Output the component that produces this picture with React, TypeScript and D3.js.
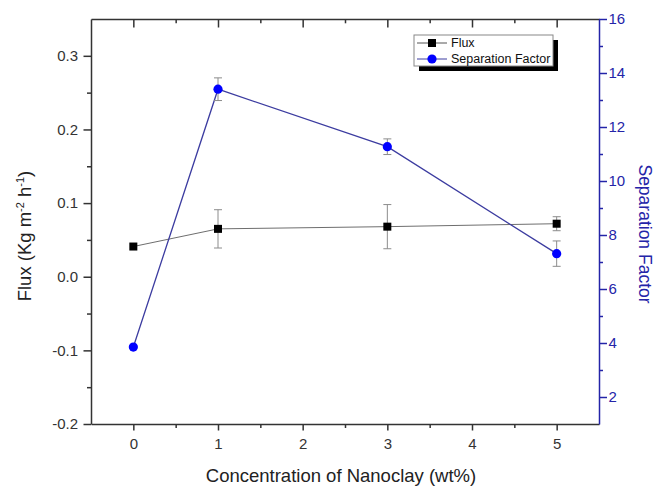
import * as d3 from 'd3';
import React, { useEffect, useRef } from 'react';

// concentration of nanoclay (wt%)
const concentrations = [0, 1, 3, 5];

// flux series, Kg m-2 h-1
const fluxValues = [0.041, 0.065, 0.068, 0.072];
const fluxErrors = [0, 0.026, 0.03, 0.0095];

// separation factor series
const separationValues = [3.85, 13.4, 11.27, 7.31];
const separationErrors = [0, 0.42, 0.29, 0.47];

// tick labels
const xTicks = [0, 1, 2, 3, 4, 5];
const xMinorTicks = [0.5, 1.5, 2.5, 3.5, 4.5];
const fluxTicks = [-0.2, -0.1, 0, 0.1, 0.2, 0.3];
const fluxMinorTicks = [-0.15, -0.05, 0.05, 0.15, 0.25];
const separationTicks = [2, 4, 6, 8, 10, 12, 14, 16];
const separationMinorTicks = [3, 5, 7, 9, 11, 13, 15];

const seriesNames = ['Flux', 'Separation Factor'];
const xTitle = 'Concentration of Nanoclay (wt%)';
const rightTitle = 'Separation Factor';

const FONT = '"Liberation Sans", Arial, sans-serif';
const BLUE_AXIS = '#2424a8';
const BLUE_LINE = '#3c3ca0';
const BLUE_MARK = '#0000ff';
const DARK = '#333333';
const ERR = '#8c8c8c';

export default function App() {
  const ref = useRef<SVGSVGElement | null>(null);

  useEffect(() => {
    const W = 657;
    const H = 487;
    // set the dimensions and margins of the graph
    const margin = { top: 19, right: 58, bottom: 63, left: 91 };
    const width = W - margin.left - margin.right;
    const height = H - margin.top - margin.bottom;

    const svg = d3.select(ref.current);
    svg.selectAll('*').remove();

    const g = svg.append('g').attr('transform', `translate(${margin.left},${margin.top})`);

    // scales
    const x = d3.scaleLinear().domain([-0.5, 5.5]).range([0, width]);
    const yFlux = d3.scaleLinear().domain([-0.2, 0.35]).range([height, 0]);
    const ySep = d3.scaleLinear().domain([1, 16]).range([height, 0]);

    const styleAxis = (sel: any, color: string, fontSize = 15) => {
      sel.selectAll('path').attr('stroke', color).attr('stroke-width', 1.5);
      sel.selectAll('line').attr('stroke', color).attr('stroke-width', 1.5);
      sel.selectAll('text').attr('fill', color).style('font-family', FONT).style('font-size', `${fontSize}px`);
    };

    // bottom axis
    const bottom = g.append('g').attr('transform', `translate(0,${height})`)
      .call(d3.axisBottom(x).tickValues(xTicks).tickSize(6.5).tickSizeOuter(0).tickPadding(8)
        .tickFormat((d: any) => String(d)));
    styleAxis(bottom, DARK);
    const bottomMinor = g.append('g').attr('transform', `translate(0,${height})`)
      .call(d3.axisBottom(x).tickValues(xMinorTicks).tickSize(4).tickFormat(() => ''));
    bottomMinor.select('.domain').remove();
    styleAxis(bottomMinor, DARK);

    // top axis (ticks inward)
    const top = g.append('g')
      .call(d3.axisTop(x).tickValues(xTicks).tickSize(-8.5).tickSizeOuter(0).tickFormat(() => ''));
    styleAxis(top, DARK);
    const topMinor = g.append('g')
      .call(d3.axisTop(x).tickValues(xMinorTicks).tickSize(-4.3).tickFormat(() => ''));
    topMinor.select('.domain').remove();
    styleAxis(topMinor, DARK);

    // left axis
    const left = g.append('g')
      .call(d3.axisLeft(yFlux).tickValues(fluxTicks).tickSize(7.5).tickSizeOuter(0).tickPadding(5.5)
        .tickFormat((d: any) => (+d).toFixed(1)));
    styleAxis(left, DARK);
    const leftMinor = g.append('g')
      .call(d3.axisLeft(yFlux).tickValues(fluxMinorTicks).tickSize(4).tickFormat(() => ''));
    leftMinor.select('.domain').remove();
    styleAxis(leftMinor, DARK);

    // right axis
    const right = g.append('g').attr('transform', `translate(${width},0)`)
      .call(d3.axisRight(ySep).tickValues(separationTicks).tickSize(8).tickSizeOuter(0).tickPadding(1.5)
        .tickFormat((d: any) => String(d)));
    styleAxis(right, BLUE_AXIS);
    const rightMinor = g.append('g').attr('transform', `translate(${width},0)`)
      .call(d3.axisRight(ySep).tickValues(separationMinorTicks).tickSize(4).tickFormat(() => ''));
    rightMinor.select('.domain').remove();
    styleAxis(rightMinor, BLUE_AXIS);

    // axis titles
    svg.append('text')
      .attr('x', margin.left + width / 2 - 4)
      .attr('y', 482)
      .attr('text-anchor', 'middle')
      .style('font-family', FONT)
      .style('font-size', '18.5px')
      .attr('fill', '#222')
      .text(xTitle);

    const leftTitle = svg.append('text')
      .attr('transform', 'translate(31,236) rotate(-90)')
      .attr('text-anchor', 'middle')
      .style('font-family', FONT)
      .style('font-size', '18.5px')
      .attr('fill', '#222');
    leftTitle.append('tspan').text('Flux (Kg m');
    leftTitle.append('tspan').attr('dy', -7).style('font-size', '11px').text('-2');
    leftTitle.append('tspan').attr('dy', 7).text(' h');
    leftTitle.append('tspan').attr('dy', -7).style('font-size', '11px').text('-1');
    leftTitle.append('tspan').attr('dy', 7).text(')');

    svg.append('text')
      .attr('transform', 'translate(639,234) rotate(90)')
      .attr('text-anchor', 'middle')
      .style('font-family', FONT)
      .style('font-size', '17.5px')
      .attr('fill', BLUE_AXIS)
      .text(rightTitle);

    const fluxData = concentrations.map((c, i) => ({ c, v: fluxValues[i], e: fluxErrors[i] }));
    const sepData = concentrations.map((c, i) => ({ c, v: separationValues[i], e: separationErrors[i] }));

    // define the lines
    const fluxLine = d3.line<any>().x(d => x(d.c)).y(d => yFlux(d.v));
    const sepLine = d3.line<any>().x(d => x(d.c)).y(d => ySep(d.v));

    g.append('path').datum(fluxData).attr('d', fluxLine)
      .attr('fill', 'none').attr('stroke', '#6e6e6e').attr('stroke-width', 1);
    g.append('path').datum(sepData).attr('d', sepLine)
      .attr('fill', 'none').attr('stroke', BLUE_LINE).attr('stroke-width', 1.3);

    // error bars
    const errorBars = (data: any[], y: any) => {
      const eb = g.append('g').attr('stroke', ERR).attr('stroke-width', 1);
      data.filter(d => d.e > 0).forEach(d => {
        const cx = x(d.c);
        const y1 = y(d.v + d.e);
        const y2 = y(d.v - d.e);
        eb.append('line').attr('x1', cx).attr('x2', cx).attr('y1', y1).attr('y2', y2);
        eb.append('line').attr('x1', cx - 4).attr('x2', cx + 4).attr('y1', y1).attr('y2', y1);
        eb.append('line').attr('x1', cx - 4).attr('x2', cx + 4).attr('y1', y2).attr('y2', y2);
      });
    };
    errorBars(fluxData, yFlux);
    errorBars(sepData, ySep);

    // markers
    g.selectAll('rect.flux').data(fluxData).enter().append('rect')
      .attr('class', 'flux')
      .attr('x', d => x(d.c) - 4).attr('y', d => yFlux(d.v) - 4)
      .attr('width', 8).attr('height', 8).attr('fill', '#000');
    g.selectAll('circle.sep').data(sepData).enter().append('circle')
      .attr('class', 'sep')
      .attr('cx', d => x(d.c)).attr('cy', d => ySep(d.v))
      .attr('r', 4.6).attr('fill', BLUE_MARK);

    // legend
    const lg = svg.append('g').attr('transform', 'translate(414,35)');
    const lw = 139;
    const lh = 31;
    lg.append('rect').attr('x', 5).attr('y', 5).attr('width', lw).attr('height', lh).attr('fill', '#000');
    lg.append('rect').attr('x', 0).attr('y', 0).attr('width', lw).attr('height', lh)
      .attr('fill', '#fff').attr('stroke', '#888').attr('stroke-width', 1);
    seriesNames.forEach((name, i) => {
      const ly = 8 + i * 16;
      const color = i === 0 ? '#555' : BLUE_LINE;
      lg.append('line').attr('x1', 3).attr('x2', 33).attr('y1', ly).attr('y2', ly)
        .attr('stroke', color).attr('stroke-width', 1);
      if (i === 0) {
        lg.append('rect').attr('x', 14).attr('y', ly - 4).attr('width', 8).attr('height', 8).attr('fill', '#000');
      } else {
        lg.append('circle').attr('cx', 18).attr('cy', ly).attr('r', 4.6).attr('fill', BLUE_MARK);
      }
      lg.append('text').attr('x', 37).attr('y', ly).attr('dy', '0.35em')
        .style('font-family', FONT).style('font-size', '12.5px').attr('fill', '#111')
        .text(name);
    });
  }, []);

  return (
    <svg
      ref={ref}
      width={657}
      height={487}
      style={{ position: 'absolute', left: 0, top: 0, background: '#fff' }}
    />
  );
}
